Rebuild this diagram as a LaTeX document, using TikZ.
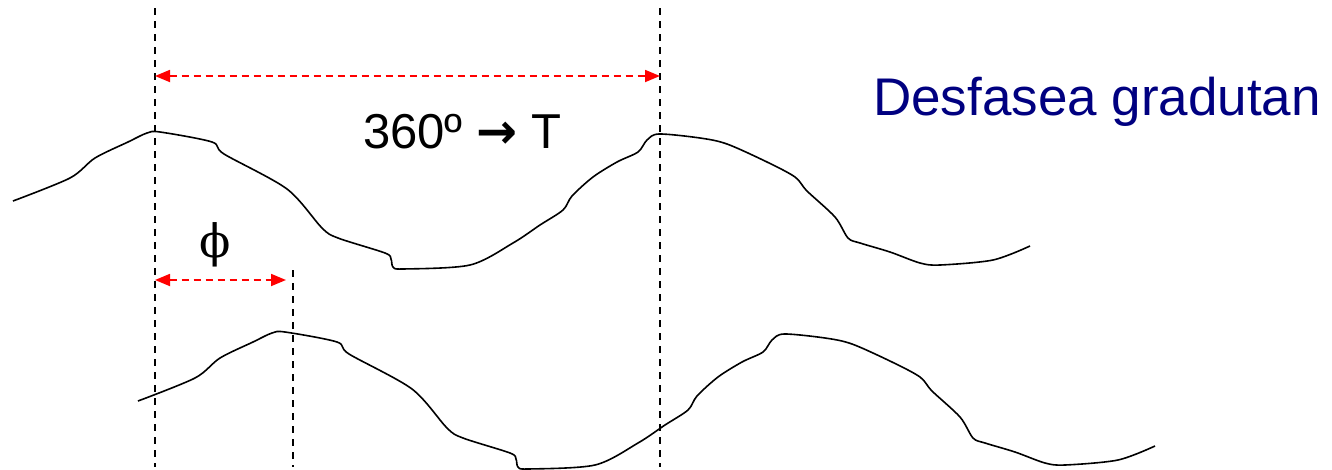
\documentclass[tikz,border=0pt]{standalone}
\usepackage{fontspec}
\setmainfont{Liberation Sans}
\newfontfamily\phifont{DejaVu Serif}
\newfontfamily\arrowfont{DejaVu Sans}
\usetikzlibrary{arrows.meta}
\definecolor{titleblue}{RGB}{0,0,128}

\begin{document}
\begin{tikzpicture}[
  x=1pt,y=-1pt,
  wave/.style={line width=1.6pt,line join=round},
  guide/.style={dash pattern=on 7pt off 6pt,line width=1.3pt},
  dim/.style={{Triangle[length=15pt,width=12pt]}-{Triangle[length=15pt,width=12pt]},red,dash pattern=on 7pt off 5pt,line width=1.8pt}
]
  \useasboundingbox (0,0) rectangle (1332,469);
  \coordinate (lt) at (155,8);   \coordinate (lb) at (155,467);
  \coordinate (rt) at (660,8);   \coordinate (rb) at (660,467);
  \coordinate (pt) at (293,270); \coordinate (pb) at (293,467);
  \draw[guide] (lt) -- (lb);
  \draw[guide] (rt) -- (rb);
  \draw[guide] (pt) -- (pb);
  % the two signals, the lower one lagging
  \foreach \dx/\dy in {0/0,125/200}
    \draw[wave,shift={(\dx,\dy)}] plot[smooth,tension=.5] coordinates {
      (13,201) (70,178) (95,158) (128,142) (147,133) (160,132) (212,142) (224,154)
      (287,189) (322,228) (338,238) (385,253) (391,259) (393,267) (403,269) (470,265)
      (513,243) (540,225) (563,210) (572,196) (593,177) (617,162) (638,152) (647,140)
      (659,134) (700,138) (727,144) (767,162) (795,177) (807,191) (835,217) (848,238)
      (860,243) (890,252) (920,263) (940,265) (993,260) (1030,246)};
  \coordinate (p1) at (155,76);  \coordinate (p2) at (660,76);
  \coordinate (f1) at (155,280); \coordinate (f2) at (286,280);
  \draw[dim] (p1) -- (p2);
  \draw[dim] (f1) -- (f2);
  \node[anchor=base,font=\fontsize{49}{55}\selectfont,inner sep=0] (period) at (462,148) {360º {\arrowfont\bfseries →} T};
  \node[anchor=base,font=\phifont\fontsize{46}{52}\selectfont,inner sep=0] (phase) at (215,257) {ϕ};
  \node[anchor=base,font=\fontsize{53}{60}\selectfont,text=titleblue,inner sep=0] (title) at (1097,115) {Desfasea gradutan};
\end{tikzpicture}
\end{document}
